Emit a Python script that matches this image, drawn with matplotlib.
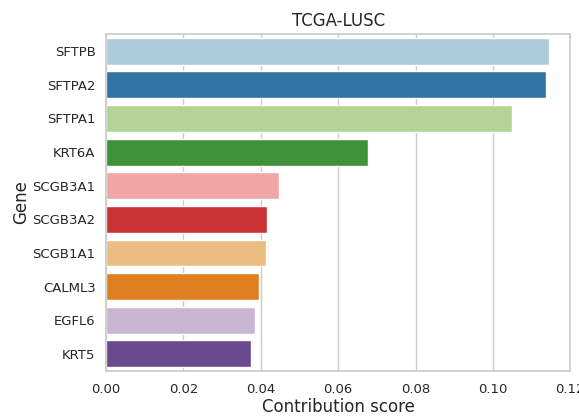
import matplotlib
matplotlib.use("Agg")
import matplotlib.pyplot as plt
import seaborn as sns

genes = ["SFTPB", "SFTPA2", "SFTPA1", "KRT6A", "SCGB3A1", "SCGB3A2",
         "SCGB1A1", "CALML3", "EGFL6", "KRT5"]
scores = [0.1146, 0.1137, 0.1049, 0.0678, 0.0447, 0.0416,
          0.0414, 0.0396, 0.0385, 0.0375]

sns.set_theme(style="whitegrid")
plt.rcParams['font.family'] = ['DejaVu Sans']

fig = plt.figure(figsize=(5.79, 4.17), dpi=100)
ax = fig.add_axes([0.183, 0.111, 0.802, 0.8067])
colors = sns.color_palette("Paired", len(genes))
sns.barplot(x=scores, y=genes, hue=genes, palette=colors, legend=False, ax=ax, orient="h")
ax.set_xlim(0, 0.12)
ax.set_xticks([0.0, 0.02, 0.04, 0.06, 0.08, 0.10, 0.12])
ax.set_xticklabels(["0.00", "0.02", "0.04", "0.06", "0.08", "0.10", "0.12"])
ax.tick_params(axis='both', labelsize=9.5)
ax.tick_params(axis='x', pad=3)
ax.tick_params(axis='y', pad=1.5)
ax.set_xlabel("Contribution score", fontsize=12, labelpad=1.5)
ax.set_ylabel("Gene", fontsize=12, labelpad=2)
ax.set_title("TCGA-LUSC", fontsize=12)
fig.savefig("out.png", dpi=100)
